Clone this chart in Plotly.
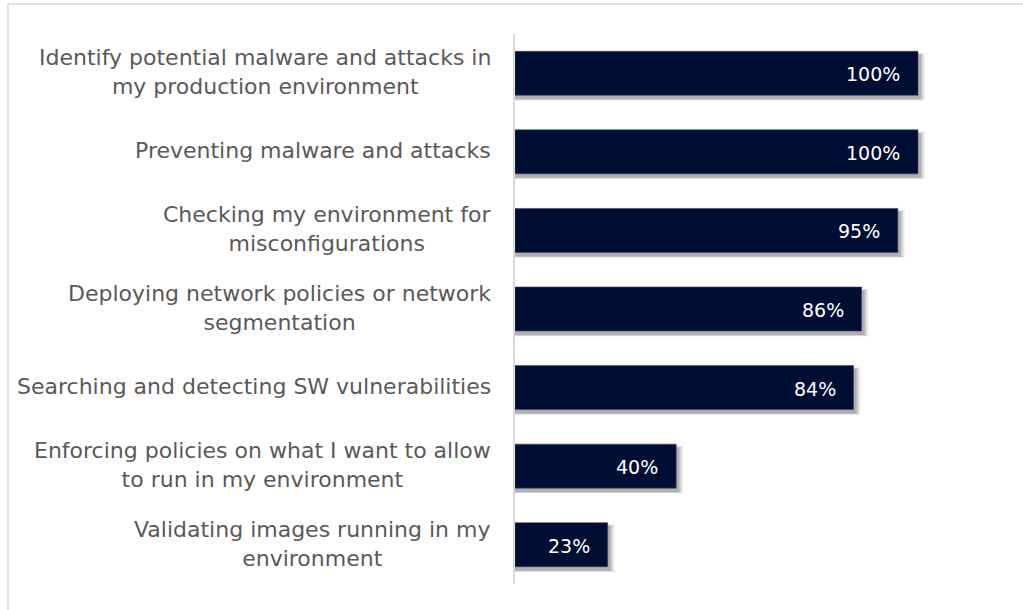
import plotly.graph_objects as go

categories = [
    "Identify potential malware and attacks in<br>my production environment",
    "Preventing malware and attacks",
    "Checking my environment for<br>misconfigurations",
    "Deploying network policies or network<br>segmentation",
    "Searching and detecting SW vulnerabilities",
    "Enforcing policies on what I want to allow<br>to run in my environment",
    "Validating images running in my<br>environment",
]
values = [100, 100, 95, 86, 84, 40, 23]

BAR_COLOR = "#000e33"
LABEL_COLOR = "#595959"
FONT = "DejaVu Sans"
W, H = 1023, 610
M_L, M_R, M_T, M_B = 515, 8, 34, 26
BAR_W = 0.56

fig = go.Figure()

# soft drop shadow beneath each bar, built from a few translucent layers
for k, alpha in [(4, 0.05), (3, 0.07), (2, 0.09), (1, 0.13)]:
    fig.add_trace(go.Bar(
        y=categories, x=[v + 0.4 + 0.35 * k for v in values],
        orientation="h", width=BAR_W + 0.012 * k, offset=-(BAR_W / 2) + 0.045 - 0.006 * k,
        marker=dict(color=f"rgba(0,0,0,{alpha})", line=dict(width=0)),
        hoverinfo="skip", showlegend=False,
    ))

fig.add_trace(go.Bar(
    y=categories, x=values, orientation="h", width=BAR_W,
    marker=dict(color=BAR_COLOR, line=dict(color="#3a4868", width=0.6)),
    showlegend=False,
))

for c, v in zip(categories, values):
    # value label at the inner end of each bar
    fig.add_annotation(
        x=v, y=c, xref="x", yref="y", text=f"{v}%", showarrow=False,
        xanchor="right", xshift=-16, yshift=-1,
        font=dict(family=FONT, size=19, color="white"),
    )
    # category label, centred lines, right edge next to the axis
    fig.add_annotation(
        x=0, y=c, xref="paper", yref="y", text=c,
        showarrow=False, xanchor="right", align="center", xshift=-22, yshift=1,
        font=dict(family=FONT, size=22, color=LABEL_COLOR),
    )

plot_w = W - M_L - M_R
plot_h = H - M_T - M_B
# light frame along the left and top edges of the chart area
fx = (8 - M_L) / plot_w
fy = (H - M_B - 4) / plot_h
fig.add_shape(type="line", xref="paper", yref="paper", x0=fx, x1=fx, y0=-0.2, y1=fy,
              line=dict(color="#d9d9d9", width=1.5))
fig.add_shape(type="line", xref="paper", yref="paper", x0=fx, x1=1.2, y0=fy, y1=fy,
              line=dict(color="#d9d9d9", width=1.5))

fig.update_layout(
    width=W, height=H, barmode="overlay",
    margin=dict(l=M_L, r=M_R, t=M_T, b=M_B),
    paper_bgcolor="white", plot_bgcolor="white",
    font=dict(family=FONT, color=LABEL_COLOR),
    xaxis=dict(range=[0, plot_w / 4.03], visible=False, fixedrange=True),
    yaxis=dict(autorange="reversed", showticklabels=False, ticks="",
               showline=True, linecolor="#d9d9d9", linewidth=2,
               showgrid=False, zeroline=False, fixedrange=True),
)

fig.write_html("out.html")
